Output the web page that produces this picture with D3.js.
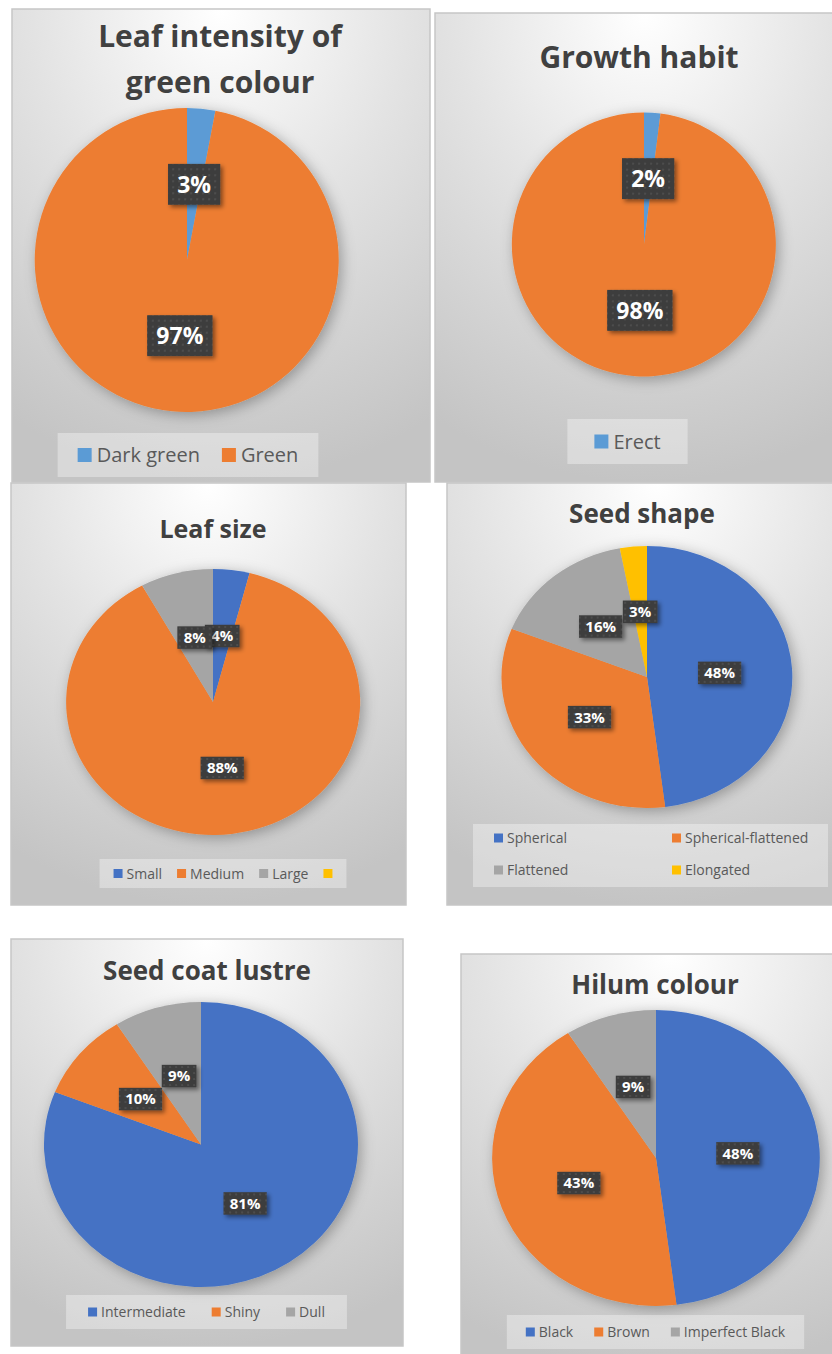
<!DOCTYPE html>
<html>
<head>
<meta charset="utf-8">
<script src="https://cdn.jsdelivr.net/npm/d3@7"></script>
<style>
  html, body { margin: 0; padding: 0; background: #ffffff; }
  svg { display: block; }
</style>
</head>
<body>
<svg id="chart" width="832" height="1354"></svg>
<script>
// ---------------- DATA ----------------
const chart1Title = ["Leaf intensity of", "green colour"];
const chart1Categories = ["Dark green", "Green"];
const chart1Values = [3, 97];
const chart1Legend = ["Dark green", "Green"];

const chart2Title = ["Growth habit"];
const chart2Categories = ["Erect", ""];
const chart2Values = [2, 98];
const chart2Legend = ["Erect"];

const chart3Title = ["Leaf size"];
const chart3Categories = ["Small", "Medium", "Large", ""];
const chart3Values = [4, 88, 8, 0];
const chart3Legend = ["Small", "Medium", "Large", ""];

const chart4Title = ["Seed shape"];
const chart4Categories = ["Spherical", "Spherical-flattened", "Flattened", "Elongated"];
const chart4Values = [48, 33, 16, 3];
const chart4Legend = ["Spherical", "Spherical-flattened", "Flattened", "Elongated"];

const chart5Title = ["Seed coat lustre"];
const chart5Categories = ["Intermediate", "Shiny", "Dull"];
const chart5Values = [81, 10, 9];
const chart5Legend = ["Intermediate", "Shiny", "Dull"];

const chart6Title = ["Hilum colour"];
const chart6Categories = ["Black", "Brown", "Imperfect Black"];
const chart6Values = [48, 43, 9];
const chart6Legend = ["Black", "Brown", "Imperfect Black"];

const paletteA = ["#5b9bd5", "#ed7d31", "#a5a5a5", "#ffc000"];
const paletteB = ["#4472c4", "#ed7d31", "#a5a5a5", "#ffc000"];

// ---------------- LAYOUT ----------------
const charts = [
  { title: chart1Title, cats: chart1Categories, vals: chart1Values, legend: chart1Legend, pal: paletteA,
    panel: [12, 9, 418, 473], titleX: 220, titleY: [47, 93], titleSize: 30,
    cx: 187, cy: 260, rx: 152, ry: 152, labelSize: 23, labPad: 0.4, labH: 1.78,
    lg: { cx: 188, top: 433, h: 44, font: 20, sq: 14, g1: 5, g2: 22, pad: 20 } },
  { title: chart2Title, cats: chart2Categories, vals: chart2Values, legend: chart2Legend, pal: paletteA,
    panel: [435, 13, 420, 469], titleX: 639, titleY: [68], titleSize: 30,
    cx: 644, cy: 244.5, rx: 132, ry: 132, labelSize: 23, labPad: 0.4, labH: 1.78,
    lg: { cx: 627.5, top: 419, h: 45, font: 20, sq: 14, g1: 5, g2: 22, pad: 27 } },
  { title: chart3Title, cats: chart3Categories, vals: chart3Values, legend: chart3Legend, pal: paletteB,
    panel: [11, 483, 395, 422], titleX: 213, titleY: [538], titleSize: 25,
    cx: 213, cy: 702, rx: 147, ry: 133, labelSize: 15, labPad: 0.42, labH: 1.5,
    lg: { cx: 223, top: 859, h: 29, font: 14, sq: 9, g1: 4, g2: 15, pad: 14 } },
  { title: chart4Title, cats: chart4Categories, vals: chart4Values, legend: chart4Legend, pal: paletteB,
    panel: [447, 483, 420, 422], titleX: 642, titleY: [523], titleSize: 26,
    cx: 647, cy: 677, rx: 145.5, ry: 131, labelSize: 15, labPad: 0.42, labH: 1.5,
    lg: { grid: true, left: 473, top: 824, w: 355, h: 63, font: 14, sq: 9, g1: 4,
          cols: [494, 672], rows: [838, 870] } },
  { title: chart5Title, cats: chart5Categories, vals: chart5Values, legend: chart5Legend, pal: paletteB,
    panel: [11, 939, 392, 407], titleX: 207, titleY: [980], titleSize: 26,
    cx: 201, cy: 1144.5, rx: 157, ry: 142.5, labelSize: 15, labPad: 0.42, labH: 1.5,
    lg: { cx: 206.5, top: 1295, h: 34, font: 14, sq: 9, g1: 4, g2: 26, pad: 22 } },
  { title: chart6Title, cats: chart6Categories, vals: chart6Values, legend: chart6Legend, pal: paletteB,
    panel: [461, 954, 420, 420], titleX: 655, titleY: [994], titleSize: 26,
    cx: 656, cy: 1158, rx: 164, ry: 148, labelSize: 15, labPad: 0.42, labH: 1.5,
    lg: { cx: 655.5, top: 1315, h: 34, font: 14, sq: 9, g1: 4, g2: 21, pad: 19 } }
];

const FONT = "'Open Sans', 'DejaVu Sans', sans-serif";
const svg = d3.select("#chart");
const defs = svg.append("defs");

// panel background gradient
const grad = defs.append("radialGradient").attr("id", "panelBg")
  .attr("cx", "50%").attr("cy", "0%").attr("r", "100%").attr("fx", "50%").attr("fy", "0%");
grad.append("stop").attr("offset", "0%").attr("stop-color", "#ffffff");
grad.append("stop").attr("offset", "45%").attr("stop-color", "#e3e3e3");
grad.append("stop").attr("offset", "100%").attr("stop-color", "#c4c4c4");

// pie shadow
const pf = defs.append("filter").attr("id", "pieShadow")
  .attr("x", "-20%").attr("y", "-20%").attr("width", "140%").attr("height", "140%");
pf.append("feDropShadow").attr("dx", 3).attr("dy", 3).attr("stdDeviation", 7)
  .attr("flood-color", "#000").attr("flood-opacity", 0.3);

// label shadow
const lf = defs.append("filter").attr("id", "labShadow")
  .attr("x", "-30%").attr("y", "-30%").attr("width", "160%").attr("height", "160%");
lf.append("feDropShadow").attr("dx", 2.5).attr("dy", 2.5).attr("stdDeviation", 2)
  .attr("flood-color", "#000").attr("flood-opacity", 0.45);

// label texture
const pat = defs.append("pattern").attr("id", "labTex")
  .attr("width", 6).attr("height", 6).attr("patternUnits", "userSpaceOnUse");
pat.append("rect").attr("width", 6).attr("height", 6).attr("fill", "#3d3d3d");
pat.append("circle").attr("cx", 3).attr("cy", 3).attr("r", 1).attr("fill", "#525252");

const pieGen = d3.pie().sort(null).value(d => d.value);
const arcGen = d3.arc().innerRadius(0).outerRadius(1);
const pct = d3.format(".0%");

charts.forEach((c, ci) => {
  const g = svg.append("g").attr("class", "chart-" + (ci + 1));
  const [px, py, pw, ph] = c.panel;

  g.append("rect").attr("x", px).attr("y", py).attr("width", pw).attr("height", ph)
    .attr("fill", "url(#panelBg)").attr("stroke", "#c6c6c6").attr("stroke-width", 1.5);

  // title
  c.title.forEach((line, i) => {
    g.append("text").attr("x", c.titleX).attr("y", c.titleY[i])
      .attr("text-anchor", "middle").attr("font-family", FONT).attr("font-weight", 700)
      .attr("font-size", c.titleSize).attr("fill", "#404040").text(line);
  });

  const data = c.cats.map((name, i) => ({ name, value: c.vals[i] }));
  const total = d3.sum(data, d => d.value);
  const arcs = pieGen(data);
  const color = d3.scaleOrdinal().domain(c.cats).range(c.pal);

  // pie
  const outer = g.append("g").attr("transform", `translate(${c.cx},${c.cy})`)
    .attr("filter", "url(#pieShadow)");
  const inner = outer.append("g").attr("transform", `scale(${c.rx},${c.ry})`);
  inner.selectAll("path").data(arcs).join("path")
    .attr("d", arcGen)
    .attr("fill", d => color(d.data.name));

  // labels
  const lab = g.append("g").attr("transform", `translate(${c.cx},${c.cy})`);
  arcs.filter(d => d.data.value > 0).forEach(d => {
    const [ux, uy] = arcGen.centroid(d);
    const x = ux * c.rx, y = uy * c.ry;
    const lg = lab.append("g").attr("transform", `translate(${x},${y})`);
    const rect = lg.append("rect").attr("fill", "url(#labTex)").attr("filter", "url(#labShadow)");
    const t = lg.append("text").attr("text-anchor", "middle")
      .attr("font-family", FONT).attr("font-weight", 700).attr("font-size", c.labelSize)
      .attr("fill", "#ffffff").attr("y", c.labelSize * 0.36)
      .text(pct(d.data.value / total));
    const tw = t.node().getComputedTextLength();
    const bw = tw + 2 * c.labelSize * c.labPad, bh = c.labelSize * c.labH;
    rect.attr("x", -bw / 2).attr("y", -bh / 2).attr("width", bw).attr("height", bh);
  });

  // legend
  const L = c.lg;
  const leg = g.append("g");
  if (L.grid) {
    leg.append("rect").attr("x", L.left).attr("y", L.top).attr("width", L.w).attr("height", L.h)
      .attr("fill", "#ffffff").attr("fill-opacity", 0.35);
    c.legend.forEach((name, i) => {
      const x = L.cols[i % 2], yc = L.rows[Math.floor(i / 2)];
      leg.append("rect").attr("x", x).attr("y", yc - L.sq / 2).attr("width", L.sq).attr("height", L.sq)
        .attr("fill", color(name));
      leg.append("text").attr("x", x + L.sq + L.g1).attr("y", yc + L.font * 0.36)
        .attr("font-family", FONT).attr("font-size", L.font).attr("fill", "#595959").text(name);
    });
  } else {
    const box = leg.append("rect").attr("fill", "#ffffff").attr("fill-opacity", 0.35);
    const items = leg.append("g");
    const yc = L.top + L.h / 2;
    let xcur = 0;
    c.legend.forEach((name, i) => {
      if (i > 0) xcur += L.g2;
      items.append("rect").attr("x", xcur).attr("y", yc - L.sq / 2).attr("width", L.sq).attr("height", L.sq)
        .attr("fill", color(name));
      xcur += L.sq;
      const t = items.append("text").attr("x", xcur + L.g1).attr("y", yc + L.font * 0.36)
        .attr("font-family", FONT).attr("font-size", L.font).attr("fill", "#595959").text(name);
      const tw = name ? t.node().getComputedTextLength() : 0;
      if (name) xcur += L.g1 + tw;
    });
    const bw = xcur + 2 * L.pad;
    const bx = L.cx - bw / 2;
    box.attr("x", bx).attr("y", L.top).attr("width", bw).attr("height", L.h);
    items.attr("transform", `translate(${bx + L.pad},0)`);
  }
});
</script>
</body>
</html>
